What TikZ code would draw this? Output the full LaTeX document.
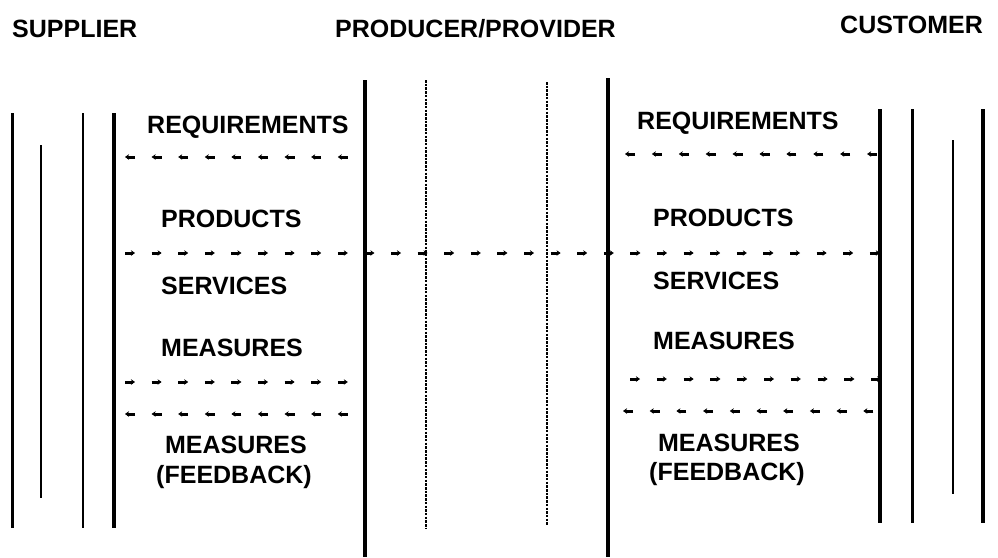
\documentclass[tikz,border=0pt]{standalone}
\usepackage{fontspec}
\setmainfont{Liberation Sans}
\usetikzlibrary{arrows.meta}
\begin{document}
\begin{tikzpicture}[x=1pt,y=-1pt,
  lab/.style={font=\fontsize{25}{30}\selectfont\bfseries, inner sep=0pt, anchor=base west},
  labc/.style={font=\fontsize{25}{30}\selectfont\bfseries, inner sep=0pt, anchor=base},
  vthick/.style={line width=3.6pt},
  vmed/.style={line width=3pt},
  vthin/.style={line width=2.6pt},
  vdot/.style={line width=2.2pt, dash pattern=on 2.5pt off 1.2pt},
  tick/.style={line width=3pt, -{Stealth[length=4pt,width=5.5pt]}}]
\useasboundingbox (0,0) rectangle (998,557);
% headers
\node[lab] (sup) at (12,37) {SUPPLIER};
\node[lab] (prod) at (335,37) {PRODUCER/PROVIDER};
\node[lab] (cust) at (840,33.5) {CUSTOMER};
% supplier lines
\draw[vmed] (12,113) -- (12,528);
\draw[vthin] (41,145) -- (41,498);
\draw[vthin] (83,113) -- (83,528);
\draw[vthick] (114,113) -- (114,528);
% producer lines
\draw[vthick] (365,80) -- (365,557);
\draw[vdot] (426,80) -- (426,528);
\draw[vdot] (547,82) -- (547,525);
\draw[vthick] (608,78) -- (608,557);
% customer lines
\draw[vthick] (880,109) -- (880,523);
\draw[vmed] (912,109) -- (912,523);
\draw[vthin] (953,140) -- (953,494);
\draw[vthick] (983,109) -- (983,523);
% left texts
\node[lab] (lreq) at (147,133) {REQUIREMENTS};
\node[lab] (lprod) at (161,227) {PRODUCTS};
\node[lab] (lserv) at (161,294) {SERVICES};
\node[lab] (lmeas) at (161,356) {MEASURES};
\node[labc] (lmeas2) at (236,453) {MEASURES};
\node[labc] (lfeed) at (234,483) {(FEEDBACK)};
% right texts
\node[lab] (rreq) at (637,129) {REQUIREMENTS};
\node[lab] (rprod) at (653,226) {PRODUCTS};
\node[lab] (rserv) at (653,289) {SERVICES};
\node[lab] (rmeas) at (653,349) {MEASURES};
\node[labc] (rmeas2) at (729,451) {MEASURES};
\node[labc] (rfeed) at (727,480) {(FEEDBACK)};
% dashed arrow rows
\foreach \i in {0,...,8} \draw[tick] ({125+26.6*\i+10},157) -- ({125+26.6*\i},157);
\foreach \i in {0,...,28} \draw[tick] ({125+26.6*\i},253) -- ({125+26.6*\i+10},253);
\foreach \i in {0,...,9} \draw[tick] ({625+26.9*\i+10},154) -- ({625+26.9*\i},154);
\foreach \i in {0,...,8} \draw[tick] ({125+26.6*\i},382) -- ({125+26.6*\i+10},382);
\foreach \i in {0,...,8} \draw[tick] ({125+26.6*\i+10},414) -- ({125+26.6*\i},414);
\foreach \i in {0,...,9} \draw[tick] ({630+26.8*\i},379) -- ({630+26.8*\i+10},379);
\foreach \i in {0,...,9} \draw[tick] ({623+26.7*\i+10},411) -- ({623+26.7*\i},411);
\end{tikzpicture}
\end{document}
